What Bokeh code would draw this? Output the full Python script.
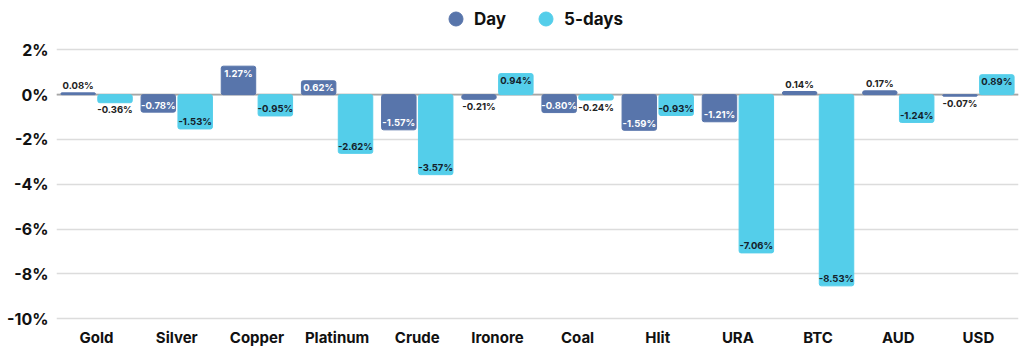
from bokeh.plotting import figure
from bokeh.models import (ColumnDataSource, FactorRange, Range1d, LabelSet, Legend,
                          LegendItem, Span, FixedTicker, PrintfTickFormatter)
from bokeh.core.properties import value
from bokeh.transform import dodge
from bokeh.embed import file_html
from bokeh.resources import INLINE

categories = ["Gold", "Silver", "Copper", "Platinum", "Crude", "Ironore",
              "Coal", "Hlit", "URA", "BTC", "AUD", "USD"]
day = [0.08, -0.78, 1.27, 0.62, -1.57, -0.21, -0.80, -1.59, -1.21, 0.14, 0.17, -0.07]
five_days = [-0.36, -1.53, -0.95, -2.62, -3.57, 0.94, -0.24, -0.93, -7.06, -8.53, -1.24, 0.89]
y_ticks = [2, 0, -2, -4, -6, -8, -10]
series_names = ["Day", "5-days"]

colors = ["#5875AB", "#54CEEA"]
inside_text = ["#ffffff", "#14212b"]
outside_text = "#222222"
FONT = "Inter"

p = figure(width=1024, height=355,
           x_range=FactorRange(*categories, range_padding=0),
           y_range=Range1d(-10.165, 4.2),
           min_border_left=56, min_border_right=6, min_border_top=0, min_border_bottom=33,
           outline_line_color=None, toolbar_location=None, output_backend="svg",
           background_fill_color="white", border_fill_color="white")

# grid
p.xgrid.grid_line_color = None
p.ygrid.ticker = FixedTicker(ticks=y_ticks)
p.ygrid.grid_line_color = "#dcdcdc"
p.ygrid.grid_line_width = 1.6
p.add_layout(Span(location=0, dimension="width", line_color="#a6a6a6",
                  line_width=1.6, level="underlay"))

# axes
p.yaxis.ticker = FixedTicker(ticks=y_ticks)
p.yaxis.formatter = PrintfTickFormatter(format="%d%%")
for ax in (p.xaxis[0], p.yaxis[0]):
    ax.axis_line_color = None
    ax.major_tick_line_color = None
    ax.minor_tick_line_color = None
    ax.major_tick_out = 0
    ax.major_tick_in = 0
    ax.minor_tick_out = 0
    ax.major_label_text_font = FONT
    ax.major_label_text_font_style = "bold"
    ax.major_label_text_color = "#111111"
p.yaxis.major_label_text_font_size = "16px"
p.yaxis.major_label_standoff = 8
p.xaxis.major_label_text_font_size = "15px"
p.xaxis.major_label_standoff = 5

offsets = [-0.23, 0.23]
bar_width = 0.43
legend_items = []
for i, (name, vals) in enumerate(zip(series_names, [day, five_days])):
    labels = [f"{v:.2f}%" for v in vals]
    inside = [abs(v) >= 0.5 for v in vals]
    off = []
    tc = []
    for v, ins in zip(vals, inside):
        if v >= 0:
            off.append(-7 if ins else 7)
        else:
            off.append(7 if ins else -7)
        tc.append(inside_text[i] if ins else outside_text)
    src = ColumnDataSource(dict(cat=categories, val=vals, label=labels, off=off, tc=tc))
    p.vbar(x=dodge("cat", offsets[i], range=p.x_range), top="val", bottom=0,
           width=bar_width, source=src, fill_color=colors[i], line_color=colors[i],
           border_radius=2)
    p.add_layout(LabelSet(x=dodge("cat", offsets[i], range=p.x_range), y="val",
                          text="label", y_offset="off", text_color="tc", source=src,
                          text_align="center", text_baseline="middle",
                          text_font=value(FONT), text_font_size=value("9.5px"),
                          text_font_style="bold"))
    dot = p.scatter(x=[categories[0]], y=[0], size=18, fill_color=colors[i],
                    line_color=colors[i], visible=False)
    legend_items.append(LegendItem(label=name, renderers=[dot]))

legend = Legend(items=legend_items, orientation="horizontal", location=(382, 286),
                label_text_font=FONT, label_text_font_style="bold",
                label_text_font_size="17px", label_text_color="#111111",
                glyph_width=35, glyph_height=35, label_standoff=1, spacing=22,
                padding=0, margin=0, border_line_alpha=0, background_fill_alpha=0,
                click_policy="none")
p.add_layout(legend)

open("out.html", "w").write(file_html(p, INLINE))
